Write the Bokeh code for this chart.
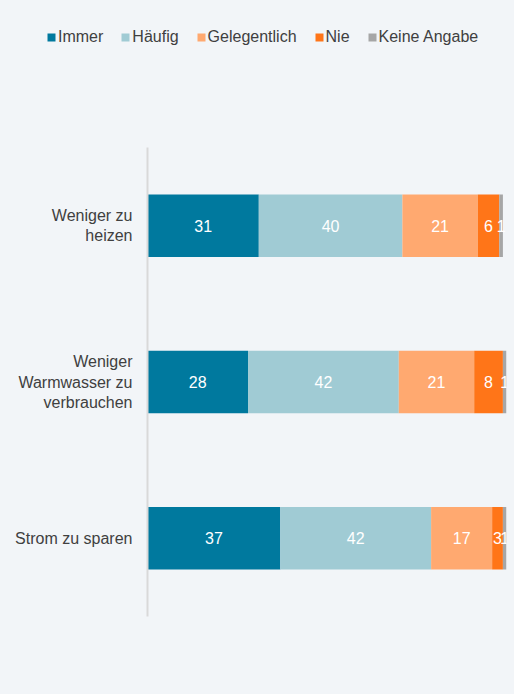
from bokeh.plotting import figure
from bokeh.layouts import column
from bokeh.models import ColumnDataSource, FactorRange, Range1d, Legend, LegendItem
from bokeh.embed import file_html
from bokeh.resources import INLINE
from bokeh.core.properties import value

categories = ["Weniger zu\nheizen", "Weniger\nWarmwasser zu\nverbrauchen", "Strom zu sparen"]
series = ["Immer", "Häufig", "Gelegentlich", "Nie", "Keine Angabe"]
immer = [31, 28, 37]
haeufig = [40, 42, 42]
gelegentlich = [21, 21, 17]
nie = [6, 8, 3]
keine = [1, 1, 1]
colors = ["#00799E", "#A0CBD4", "#FFA970", "#FF7518", "#A6A6A6"]

BG = "#F2F5F8"
FONT = "Liberation Sans"
TXT = "#404040"

data = {"cat": categories, "Immer": immer, "Häufig": haeufig,
        "Gelegentlich": gelegentlich, "Nie": nie, "Keine Angabe": keine}
src = ColumnDataSource(data)

# ---- main chart ----
p = figure(frame_width=359, frame_height=469, output_backend="svg", toolbar_location=None,
           y_range=FactorRange(factors=categories[::-1]), x_range=Range1d(0, 100),
           background_fill_color=BG, border_fill_color=BG,
           min_border_left=147, min_border_right=8, min_border_top=0, min_border_bottom=78,
           styles={"background-color": BG})
p.outline_line_color = None

renderers = p.hbar_stack(series, y="cat", height=0.40, color=colors, source=src,
                         line_color=None)

lx, ly, lt = [], [], []
cols = [immer, haeufig, gelegentlich, nie, keine]
for i, c in enumerate(categories):
    left = 0
    for s in cols:
        v = s[i]
        lx.append(left + v / 2)
        ly.append(c)
        lt.append(str(v))
        left += v
p.text(x=lx, y=ly, text=lt, text_align="center", text_baseline="middle",
       text_color="white", text_font=value(FONT), text_font_size="16px")

p.xaxis.visible = False
p.xgrid.visible = False
p.ygrid.visible = False
p.yaxis.axis_line_color = "#D9D9D9"
p.yaxis.axis_line_width = 2
p.yaxis.major_tick_line_color = None
p.yaxis.minor_tick_line_color = None
p.yaxis.major_label_text_font = FONT
p.yaxis.major_label_text_font_size = "16px"
p.yaxis.major_label_text_color = TXT
p.yaxis.major_label_standoff = 9
p.yaxis.major_label_text_align = "right"

# ---- legend strip ----
lg = figure(frame_width=514, frame_height=147, output_backend="svg", toolbar_location=None,
            x_range=Range1d(0, 1), y_range=Range1d(0, 1),
            background_fill_color=BG, border_fill_color=BG,
            min_border_left=0, min_border_right=0, min_border_top=0, min_border_bottom=0,
            styles={"background-color": BG})
lg.outline_line_color = None
lg.axis.visible = False
lg.grid.visible = False
nan = float("nan")
dummy = ColumnDataSource({"y": [nan], "right": [nan]})
lrs = [lg.hbar(y="y", right="right", height=0.1, fill_color=c, line_color=None, source=dummy)
       for c in colors]
legend = Legend(items=[LegendItem(label=s, renderers=[r]) for s, r in zip(series, lrs)],
                orientation="horizontal", location=(46, 101),
                background_fill_alpha=0, border_line_color=None,
                label_text_font=FONT, label_text_font_size="16px", label_text_color=TXT,
                glyph_width=10, glyph_height=10, spacing=17, label_standoff=2,
                padding=0, margin=0)
lg.add_layout(legend, "center")

layout = column(lg, p, spacing=0, styles={"background-color": BG})
open("out.html", "w").write(file_html(layout, INLINE))
